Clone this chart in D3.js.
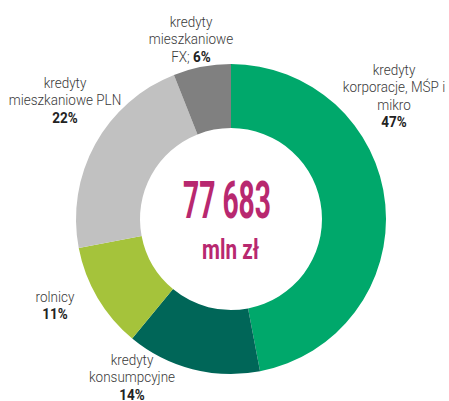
<!DOCTYPE html>
<html>
<head>
<meta charset="utf-8">
<script src="https://cdn.jsdelivr.net/npm/d3@7"></script>
<style>
  html, body { margin: 0; padding: 0; background: #fff; }
  svg { display: block; }
</style>
</head>
<body>
<svg id="chart" width="449" height="401"></svg>
<script>
// ---- data ----
const categories = ["kredyty korporacje, MŚP i mikro", "kredyty konsumpcyjne", "rolnicy", "kredyty mieszkaniowe PLN", "kredyty mieszkaniowe FX"];
const values = [47, 14, 11, 22, 6];
const labelLines = [
  ["kredyty", "korporacje, MŚP i", "mikro"],
  ["kredyty", "konsumpcyjne"],
  ["rolnicy"],
  ["kredyty", "mieszkaniowe PLN"],
  ["kredyty", "mieszkaniowe"]
];
const pctPrefix = ["", "", "", "", "FX; "];
const totalValue = "77 683";
const totalUnit = "mln zł";

// ---- styles / layout ----
const colors = ["#00a86b", "#006658", "#a5c33b", "#c1c1c1", "#808080"];
const cx = 231, cy = 219, rOuter = 155, rInner = 91;
const labelPos = [
  { x: 394, y: 75 },
  { x: 132, y: 365 },
  { x: 55, y: 302 },
  { x: 65, y: 88 },
  { x: 191, y: 27 }
];
const lineH = 17.5;

const svg = d3.select("#chart");
const g = svg.append("g").attr("transform", `translate(${cx},${cy})`);

const pie = d3.pie().sort(null).value(d => d);
const arc = d3.arc().innerRadius(rInner).outerRadius(rOuter);

g.selectAll("path")
  .data(pie(values))
  .join("path")
  .attr("d", arc)
  .attr("fill", (d, i) => colors[i]);

// labels
labelPos.forEach((p, i) => {
  const t = svg.append("g")
    .attr("transform", `translate(${p.x},${p.y}) scale(0.9,1)`)
    .append("text")
    .attr("text-anchor", "middle")
    .attr("font-family", "Roboto, 'Noto Sans', sans-serif")
    .attr("font-size", 15)
    .attr("font-weight", 300)
    .attr("fill", "#3a3a3a");
  const lines = labelLines[i];
  lines.forEach((ln, j) => {
    t.append("tspan").attr("x", 0).attr("y", j * lineH).text(ln);
  });
  const last = t.append("tspan").attr("x", 0).attr("y", lines.length * lineH);
  if (pctPrefix[i]) last.append("tspan").text(pctPrefix[i]);
  last.append("tspan").attr("font-weight", 700).attr("fill", "#222").text(values[i] + "%");
});

// center text
svg.append("text")
  .attr("x", cx - 4).attr("y", 218)
  .attr("text-anchor", "middle")
  .attr("font-family", "Roboto, sans-serif")
  .attr("font-weight", 700)
  .attr("font-size", 52)
  .attr("fill", "#b8286f")
  .attr("textLength", 88)
  .attr("lengthAdjust", "spacingAndGlyphs")
  .text(totalValue);

svg.append("text")
  .attr("x", cx - 0.5).attr("y", 259)
  .attr("text-anchor", "middle")
  .attr("font-family", "Roboto, sans-serif")
  .attr("font-weight", 700)
  .attr("font-size", 27)
  .attr("fill", "#b8286f")
  .attr("textLength", 57)
  .attr("lengthAdjust", "spacingAndGlyphs")
  .text(totalUnit);
</script>
</body>
</html>
